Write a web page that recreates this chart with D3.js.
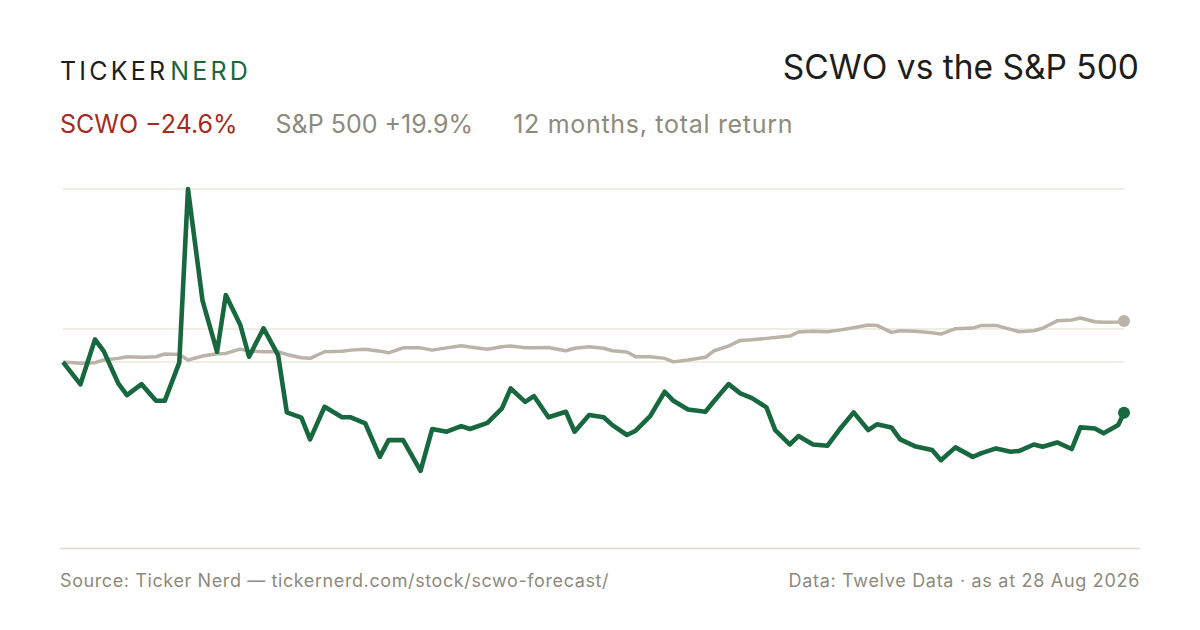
<!DOCTYPE html>
<html>
<head>
<meta charset="utf-8">
<script src="https://cdn.jsdelivr.net/npm/d3@7"></script>
<style>
  body { margin: 0; background: #fff; }
  svg { display: block; font-family: Inter, "Liberation Sans", Arial, sans-serif; }
</style>
</head>
<body>
<div id="chart"></div>
<script>
// days since 28 Aug 2025, one entry per point
var days = [0, 6, 11, 14, 19, 22, 27, 32, 35, 40, 43, 48, 53, 56, 61, 64, 69, 74, 77, 82,
            85, 90, 96, 99, 104, 109, 112, 117, 123, 127, 132, 137, 140, 146, 151, 154, 159, 162, 167, 173,
            176, 181, 186, 189, 194, 197, 202, 207, 210, 215, 221, 224, 229, 233, 237, 242, 245, 250, 253, 258,
            263, 267, 272, 277, 280, 285, 288, 293, 299, 302, 307, 313, 316, 321, 326, 329, 334, 337, 342, 347,
            350, 355, 358, 363, 365];

// total return, %
var scwo = [0, -10.8, 11.0, 5.3, -10.3, -16.0, -10.7, -18.8, -18.8, -0.3, 84.0, 29.8, 5.0, 32.5, 18.0, 2.6, 16.4, 3.4, -24.4, -27.0,
            -37.5, -21.7, -26.8, -26.8, -29.8, -46.0, -37.9, -37.9, -52.8, -32.5, -33.8, -31.1, -32.5, -29.5, -22.5, -12.8, -19.3, -16.5, -26.8, -24.1,
            -33.8, -25.7, -26.8, -30.6, -35.4, -33.3, -26.2, -14.4, -18.8, -23.0, -24.1, -18.9, -10.7, -15.2, -17.5, -22.0, -33.0, -40.0, -35.9, -40.0,
            -40.6, -33.0, -24.4, -33.0, -30.2, -31.7, -37.5, -40.8, -42.7, -47.6, -41.4, -46.0, -44.2, -41.9, -43.5, -43.1, -40.0, -41.1, -39.0, -42.2,
            -31.7, -32.2, -34.6, -30.6, -24.6];

var spx = [0, -0.6, -0.3, 1.0, 1.8, 2.6, 2.3, 2.6, 3.9, 3.7, 1.0, 2.9, 4.0, 4.2, 6.3, 5.3, 5.0, 5.0, 3.7, 2.1,
           1.8, 5.0, 5.3, 5.8, 6.2, 5.3, 4.5, 6.9, 6.9, 5.8, 6.9, 7.9, 7.3, 6.2, 7.4, 7.8, 6.9, 7.0, 7.1, 5.5,
           6.7, 7.4, 6.7, 5.5, 4.9, 2.6, 2.6, 1.8, 0.1, 1.0, 2.3, 5.5, 7.8, 10.5, 10.8, 11.5, 11.9, 12.6, 14.6, 15.0,
           14.7, 15.5, 16.7, 18.0, 17.8, 14.4, 15.2, 15.0, 14.2, 13.6, 16.2, 16.5, 17.8, 17.8, 15.9, 14.7, 15.2, 16.4, 20.0, 20.4,
           21.4, 19.6, 19.3, 19.5, 19.9];

var gridValues = [84, 16, 0];
var yDomain = [-81.5, 84];
var startDate = new Date(2025, 7, 28);
var endDate = new Date(2026, 7, 28);

var width = 1200, height = 630;
var green = "#17683f", grey = "#bbb3a7";

var dates = days.map(function(d) { return d3.timeDay.offset(startDate, d); });

var svg = d3.select("#chart").append("svg")
    .attr("width", width)
    .attr("height", height);

var x = d3.scaleTime().domain([startDate, endDate]).range([63, 1124]);
var y = d3.scaleLinear().domain(yDomain).range([530, 189]);

// header
var logo = svg.append("text")
    .attr("x", 60).attr("y", 80)
    .style("font-size", "25px")
    .style("letter-spacing", "3.2px");
logo.append("tspan").attr("fill", "#1d1d1b").text("TICKER");
logo.append("tspan").attr("fill", green).attr("dx", 2).text("NERD");

svg.append("text")
    .attr("x", 1139).attr("y", 79)
    .attr("text-anchor", "end")
    .attr("fill", "#1d1d1b")
    .style("font-size", "33.5px")
    .text("SCWO vs the S&P 500");

var sub = svg.append("text")
    .attr("x", 60).attr("y", 133)
    .style("font-size", "25px");
sub.append("tspan").attr("fill", "#a52a22").text("SCWO \u221224.6%");
sub.append("tspan").attr("fill", "#8e8a7c").attr("dx", 38).text("S&P 500 +19.9%");
sub.append("tspan").attr("fill", "#8e8a7c").attr("dx", 40)
    .style("letter-spacing", "0.7px")
    .text("12 months, total return");

// grid
svg.append("g")
  .selectAll("line")
  .data(gridValues)
  .join("line")
    .attr("x1", x(startDate)).attr("x2", x(endDate))
    .attr("y1", function(d) { return y(d); })
    .attr("y2", function(d) { return y(d); })
    .attr("stroke", "#ebe7df")
    .attr("stroke-width", 1.5);

var line = function(values) {
    return d3.line()
        .x(function(d, i) { return x(dates[i]); })
        .y(function(d) { return y(d); })(values);
};

svg.append("path")
    .attr("d", line(spx))
    .attr("fill", "none")
    .attr("stroke", grey)
    .attr("stroke-width", 3.5)
    .attr("stroke-linejoin", "round");

svg.append("path")
    .attr("d", line(scwo))
    .attr("fill", "none")
    .attr("stroke", green)
    .attr("stroke-width", 4.6)
    .attr("stroke-linejoin", "round");

var last = days.length - 1;
svg.append("circle")
    .attr("cx", x(dates[last])).attr("cy", y(spx[last]))
    .attr("r", 6).attr("fill", grey);
svg.append("circle")
    .attr("cx", x(dates[last])).attr("cy", y(scwo[last]))
    .attr("r", 6).attr("fill", green);

// footer
svg.append("line")
    .attr("x1", 60).attr("x2", 1140)
    .attr("y1", 548.5).attr("y2", 548.5)
    .attr("stroke", "#dedacf")
    .attr("stroke-width", 1.5);

svg.append("text")
    .attr("x", 60).attr("y", 587)
    .attr("fill", "#8e8a7c")
    .style("font-size", "18px")
    .style("letter-spacing", "0.6px")
    .text("Source: Ticker Nerd \u2014 tickernerd.com/stock/scwo-forecast/");

svg.append("text")
    .attr("x", 1140).attr("y", 587)
    .attr("text-anchor", "end")
    .attr("fill", "#8e8a7c")
    .style("font-size", "18px")
    .style("letter-spacing", "0.7px")
    .text("Data: Twelve Data \u00b7 as at 28 Aug 2026");
</script>
</body>
</html>
